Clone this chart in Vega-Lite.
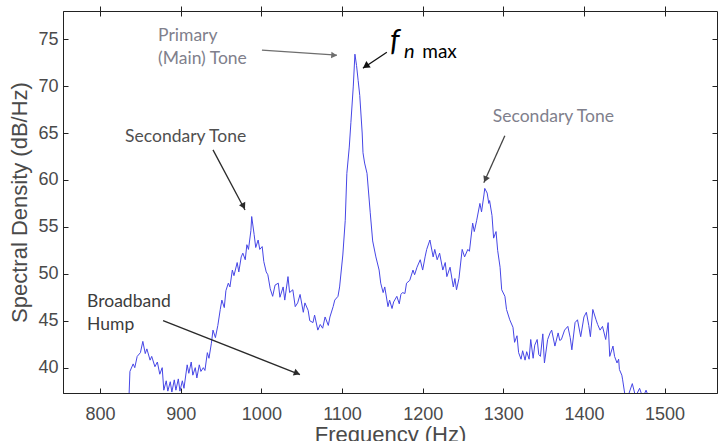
{
  "$schema": "https://vega.github.io/schema/vega-lite/v6.json",
  "width": 654,
  "height": 382,
  "autosize": {"type": "none"},
  "padding": {"left": 63, "top": 11, "right": 1, "bottom": 48},
  "background": "white",
  "config": {
    "view": {"stroke": "#222222", "strokeWidth": 1},
    "axis": {
      "domainColor": "#222222",
      "tickColor": "#222222",
      "tickSize": 5,
      "grid": false,
      "labelFont": "Liberation Sans",
      "labelFontSize": 18,
      "labelColor": "#4a4a4a",
      "titleFont": "Liberation Sans",
      "titleFontSize": 22,
      "titleFontWeight": "normal",
      "titleColor": "#4a4a4a"
    }
  },
  "datasets": {
    "spectrum": [
      {"f": 835, "db": 36.8}, {"f": 836, "db": 37.3}, {"f": 837, "db": 39.6}, {"f": 841, "db": 40.4},
      {"f": 843, "db": 40.0}, {"f": 846, "db": 41.2}, {"f": 850, "db": 41.6}, {"f": 853, "db": 42.8},
      {"f": 856, "db": 41.5}, {"f": 858, "db": 42.0}, {"f": 862, "db": 40.8}, {"f": 864, "db": 41.2},
      {"f": 868, "db": 40.1}, {"f": 871, "db": 40.6}, {"f": 874, "db": 39.3}, {"f": 877, "db": 40.0},
      {"f": 879, "db": 37.6}, {"f": 882, "db": 38.6}, {"f": 884, "db": 37.5}, {"f": 887, "db": 38.5},
      {"f": 889, "db": 37.4}, {"f": 892, "db": 38.7}, {"f": 894, "db": 37.6}, {"f": 897, "db": 38.8},
      {"f": 899, "db": 37.5}, {"f": 902, "db": 38.6}, {"f": 904, "db": 37.8}, {"f": 908, "db": 40.3},
      {"f": 910, "db": 39.4}, {"f": 913, "db": 40.6}, {"f": 915, "db": 39.2}, {"f": 918, "db": 40.0},
      {"f": 920, "db": 38.9}, {"f": 923, "db": 40.3}, {"f": 925, "db": 39.6}, {"f": 928, "db": 40.0},
      {"f": 930, "db": 39.7}, {"f": 933, "db": 41.6}, {"f": 935, "db": 41.0}, {"f": 938, "db": 42.6},
      {"f": 940, "db": 44.0}, {"f": 943, "db": 43.2}, {"f": 946, "db": 44.5}, {"f": 949, "db": 46.2},
      {"f": 951, "db": 47.2}, {"f": 954, "db": 46.4}, {"f": 956, "db": 48.2}, {"f": 959, "db": 49.0},
      {"f": 961, "db": 48.6}, {"f": 964, "db": 50.4}, {"f": 966, "db": 49.8}, {"f": 970, "db": 51.2},
      {"f": 972, "db": 50.2}, {"f": 975, "db": 51.8}, {"f": 977, "db": 52.2}, {"f": 980, "db": 51.5},
      {"f": 982, "db": 53.1}, {"f": 984, "db": 52.6}, {"f": 987, "db": 54.6}, {"f": 988, "db": 56.1},
      {"f": 991, "db": 54.2}, {"f": 993, "db": 52.8}, {"f": 996, "db": 53.6}, {"f": 998, "db": 52.6},
      {"f": 1001, "db": 52.9}, {"f": 1003, "db": 51.3}, {"f": 1006, "db": 50.2}, {"f": 1008, "db": 49.9},
      {"f": 1011, "db": 48.4}, {"f": 1014, "db": 47.6}, {"f": 1017, "db": 48.8}, {"f": 1021, "db": 49.0},
      {"f": 1023, "db": 47.5}, {"f": 1027, "db": 48.6}, {"f": 1029, "db": 47.2}, {"f": 1033, "db": 49.7},
      {"f": 1035, "db": 48.0}, {"f": 1039, "db": 48.3}, {"f": 1042, "db": 46.5}, {"f": 1045, "db": 46.9},
      {"f": 1048, "db": 47.8}, {"f": 1052, "db": 45.9}, {"f": 1054, "db": 46.9}, {"f": 1058, "db": 46.1},
      {"f": 1060, "db": 45.0}, {"f": 1064, "db": 44.8}, {"f": 1066, "db": 45.6}, {"f": 1070, "db": 44.0},
      {"f": 1073, "db": 44.6}, {"f": 1076, "db": 44.2}, {"f": 1079, "db": 45.4}, {"f": 1083, "db": 44.5},
      {"f": 1085, "db": 45.4}, {"f": 1089, "db": 46.5}, {"f": 1091, "db": 47.2}, {"f": 1095, "db": 47.6},
      {"f": 1097, "db": 48.6}, {"f": 1101, "db": 52.0}, {"f": 1104, "db": 55.7}, {"f": 1106, "db": 60.7},
      {"f": 1109, "db": 63.5}, {"f": 1111, "db": 66.1}, {"f": 1114, "db": 70.0}, {"f": 1116, "db": 73.4},
      {"f": 1118, "db": 72.2}, {"f": 1120, "db": 70.6}, {"f": 1122, "db": 69.0}, {"f": 1125, "db": 65.0},
      {"f": 1126, "db": 62.9}, {"f": 1128, "db": 61.8}, {"f": 1131, "db": 60.7}, {"f": 1135, "db": 56.5},
      {"f": 1138, "db": 53.5}, {"f": 1142, "db": 51.8}, {"f": 1146, "db": 50.4}, {"f": 1148, "db": 49.0},
      {"f": 1151, "db": 48.0}, {"f": 1153, "db": 48.6}, {"f": 1157, "db": 46.5}, {"f": 1159, "db": 47.2},
      {"f": 1162, "db": 46.3}, {"f": 1164, "db": 47.0}, {"f": 1168, "db": 47.6}, {"f": 1171, "db": 46.8},
      {"f": 1173, "db": 47.8}, {"f": 1175, "db": 48.0}, {"f": 1178, "db": 47.9}, {"f": 1180, "db": 49.0},
      {"f": 1184, "db": 49.3}, {"f": 1188, "db": 50.4}, {"f": 1190, "db": 49.9}, {"f": 1193, "db": 50.7},
      {"f": 1197, "db": 51.5}, {"f": 1200, "db": 50.4}, {"f": 1203, "db": 51.8}, {"f": 1205, "db": 52.6},
      {"f": 1209, "db": 53.6}, {"f": 1213, "db": 51.8}, {"f": 1215, "db": 52.6}, {"f": 1218, "db": 51.5},
      {"f": 1221, "db": 52.2}, {"f": 1225, "db": 50.4}, {"f": 1228, "db": 51.2}, {"f": 1230, "db": 49.7},
      {"f": 1234, "db": 50.7}, {"f": 1238, "db": 48.6}, {"f": 1240, "db": 49.5}, {"f": 1242, "db": 48.3},
      {"f": 1245, "db": 49.5}, {"f": 1249, "db": 52.6}, {"f": 1252, "db": 51.8}, {"f": 1256, "db": 52.6},
      {"f": 1258, "db": 52.4}, {"f": 1262, "db": 55.4}, {"f": 1264, "db": 54.5}, {"f": 1267, "db": 55.7},
      {"f": 1271, "db": 57.5}, {"f": 1273, "db": 56.6}, {"f": 1276, "db": 58.4}, {"f": 1277, "db": 59.1},
      {"f": 1280, "db": 58.6}, {"f": 1282, "db": 57.5}, {"f": 1283, "db": 57.8}, {"f": 1286, "db": 56.2},
      {"f": 1288, "db": 53.8}, {"f": 1291, "db": 54.5}, {"f": 1293, "db": 52.5}, {"f": 1296, "db": 50.7},
      {"f": 1298, "db": 48.3}, {"f": 1302, "db": 47.6}, {"f": 1304, "db": 46.2}, {"f": 1308, "db": 45.1},
      {"f": 1312, "db": 44.3}, {"f": 1314, "db": 42.7}, {"f": 1317, "db": 43.4}, {"f": 1319, "db": 41.6},
      {"f": 1322, "db": 40.9}, {"f": 1324, "db": 41.8}, {"f": 1327, "db": 40.8}, {"f": 1329, "db": 41.7},
      {"f": 1332, "db": 40.9}, {"f": 1334, "db": 43.0}, {"f": 1337, "db": 41.0}, {"f": 1339, "db": 42.4},
      {"f": 1342, "db": 43.0}, {"f": 1344, "db": 41.4}, {"f": 1346, "db": 41.2}, {"f": 1349, "db": 43.6},
      {"f": 1351, "db": 40.5}, {"f": 1355, "db": 43.0}, {"f": 1358, "db": 43.7}, {"f": 1360, "db": 44.0},
      {"f": 1364, "db": 42.3}, {"f": 1368, "db": 43.7}, {"f": 1370, "db": 42.9}, {"f": 1372, "db": 43.0},
      {"f": 1376, "db": 44.0}, {"f": 1380, "db": 44.4}, {"f": 1383, "db": 43.2}, {"f": 1385, "db": 41.9},
      {"f": 1389, "db": 44.8}, {"f": 1392, "db": 45.1}, {"f": 1396, "db": 43.3}, {"f": 1400, "db": 45.4},
      {"f": 1403, "db": 45.9}, {"f": 1406, "db": 44.5}, {"f": 1408, "db": 43.3}, {"f": 1411, "db": 46.2},
      {"f": 1415, "db": 45.1}, {"f": 1417, "db": 44.6}, {"f": 1420, "db": 44.0}, {"f": 1423, "db": 44.4},
      {"f": 1427, "db": 43.0}, {"f": 1430, "db": 44.8}, {"f": 1432, "db": 41.2}, {"f": 1436, "db": 42.3},
      {"f": 1438, "db": 41.2}, {"f": 1441, "db": 40.5}, {"f": 1443, "db": 40.9}, {"f": 1444, "db": 39.8},
      {"f": 1447, "db": 39.2}, {"f": 1448, "db": 38.7}, {"f": 1451, "db": 37.0}, {"f": 1454, "db": 36.8},
      {"f": 1460, "db": 38.3}, {"f": 1464, "db": 36.9}, {"f": 1469, "db": 37.8}, {"f": 1473, "db": 36.8},
      {"f": 1477, "db": 37.6}, {"f": 1482, "db": 36.5}
    ],
    "arrows": [
      {"name": "primary", "f": 1000.7, "db": 73.83, "f2": 1093.7, "db2": 73.3},
      {"name": "fnmax", "f": 1155.6, "db": 73.6, "f2": 1125.9, "db2": 71.9},
      {"name": "secondary_low", "f": 940.0, "db": 63.2, "f2": 979.7, "db2": 56.8},
      {"name": "secondary_high", "f": 1301.9, "db": 64.7, "f2": 1275.8, "db2": 59.7},
      {"name": "broadband", "f": 878.1, "db": 45.0, "f2": 1047.8, "db2": 39.26}
    ]
  },
  "layer": [
    {
      "data": {"name": "spectrum"},
      "mark": {"type": "line", "color": "#4646e6", "strokeWidth": 1, "clip": true, "interpolate": "linear"},
      "encoding": {
        "x": {
          "field": "f", "type": "quantitative",
          "scale": {"domain": [754, 1565], "nice": false, "zero": false},
          "axis": {"orient": "bottom", "title": "Frequency (Hz)", "format": "d", "ticks": false, "values": [800, 900, 1000, 1100, 1200, 1300, 1400, 1500], "labelPadding": 12, "titlePadding": 1}
        },
        "y": {
          "field": "db", "type": "quantitative",
          "scale": {"domain": [37.3, 78], "nice": false, "zero": false},
          "axis": {"orient": "left", "title": "Spectral Density (dB/Hz)", "ticks": false, "values": [40, 45, 50, 55, 60, 65, 70, 75], "labelPadding": 5, "titlePadding": 6}
        }
      }
    },
    {
      "data": {"name": "arrows"},
      "mark": {"type": "rule", "color": "#2a2a2a", "strokeWidth": 1.3},
      "encoding": {
        "x": {"field": "f", "type": "quantitative", "axis": {"orient": "top", "offset": -382, "labels": false, "title": null, "domain": false, "values": [800, 900, 1000, 1100, 1200, 1300, 1400, 1500]}},
        "y": {"field": "db", "type": "quantitative", "axis": {"orient": "right", "offset": -654, "labels": false, "title": null, "domain": false, "values": [40, 45, 50, 55, 60, 65, 70, 75]}},
        "x2": {"field": "f2"},
        "y2": {"field": "db2"},
        "color": {"field": "name", "type": "nominal", "legend": null,
          "scale": {"domain": ["primary", "fnmax", "secondary_low", "secondary_high", "broadband"], "range": ["#6e6e6e", "#111111", "#2a2a2a", "#444444", "#2a2a2a"]}}
      }
    },
    {
      "data": {"values": [{"f": 1089.0, "db": 73.3}]},
      "mark": {"type": "point", "shape": "triangle", "filled": true, "size": 45, "angle": 94, "color": "#6e6e6e", "opacity": 1},
      "encoding": {
        "x": {"field": "f", "type": "quantitative", "axis": {"orient": "bottom", "offset": -382, "labels": false, "title": null, "domain": false, "values": [800, 900, 1000, 1100, 1200, 1300, 1400, 1500]}},
        "y": {"field": "db", "type": "quantitative", "axis": {"orient": "left", "offset": -654, "labels": false, "title": null, "domain": false, "values": [40, 45, 50, 55, 60, 65, 70, 75]}}
      }
    },
    {
      "data": {"values": [{"f": 1130.6, "db": 72.2}]},
      "mark": {"type": "point", "shape": "triangle", "filled": true, "size": 60, "angle": 236, "color": "#111111", "opacity": 1},
      "encoding": {
        "x": {"field": "f", "type": "quantitative", "axis": {"orient": "top", "labels": false, "title": null, "domain": false, "values": [800, 900, 1000, 1100, 1200, 1300, 1400, 1500]}},
        "y": {"field": "db", "type": "quantitative", "axis": {"orient": "right", "labels": false, "title": null, "domain": false, "values": [40, 45, 50, 55, 60, 65, 70, 75]}}
      }
    },
    {
      "data": {"values": [{"f": 977.3, "db": 57.3}]},
      "mark": {"type": "point", "shape": "triangle", "filled": true, "size": 50, "angle": 152, "color": "#2a2a2a", "opacity": 1},
      "encoding": {"x": {"field": "f", "type": "quantitative", "axis": null}, "y": {"field": "db", "type": "quantitative", "axis": null}}
    },
    {
      "data": {"values": [{"f": 1278.3, "db": 60.15}]},
      "mark": {"type": "point", "shape": "triangle", "filled": true, "size": 50, "angle": 204, "color": "#444444", "opacity": 1},
      "encoding": {"x": {"field": "f", "type": "quantitative", "axis": null}, "y": {"field": "db", "type": "quantitative", "axis": null}}
    },
    {
      "data": {"values": [{"f": 1043.0, "db": 39.45}]},
      "mark": {"type": "point", "shape": "triangle", "filled": true, "size": 50, "angle": 111, "color": "#2a2a2a", "opacity": 1},
      "encoding": {"x": {"field": "f", "type": "quantitative", "axis": null}, "y": {"field": "db", "type": "quantitative", "axis": null}}
    },
    {
      "data": {"values": [
        {"label": "Primary", "f": 871.9, "db": 75.3},
        {"label": "(Main) Tone", "f": 871.9, "db": 72.9},
        {"label": "Secondary Tone", "f": 1287.0, "db": 66.7}
      ]},
      "mark": {"type": "text", "align": "left", "baseline": "middle", "font": "Lato", "fontSize": 17.5, "color": "#80808c"},
      "encoding": {"x": {"field": "f", "type": "quantitative", "axis": null}, "y": {"field": "db", "type": "quantitative", "axis": null}, "text": {"field": "label"}}
    },
    {
      "data": {"values": [{"label": "Secondary Tone", "f": 831.0, "db": 64.57}]},
      "mark": {"type": "text", "align": "left", "baseline": "middle", "font": "Lato", "fontSize": 17.5, "color": "#505050"},
      "encoding": {"x": {"field": "f", "type": "quantitative", "axis": null}, "y": {"field": "db", "type": "quantitative", "axis": null}, "text": {"field": "label"}}
    },
    {
      "data": {"values": [
        {"label": "Broadband", "f": 783.9, "db": 47.0},
        {"label": "Hump", "f": 783.9, "db": 44.57}
      ]},
      "mark": {"type": "text", "align": "left", "baseline": "middle", "font": "Lato", "fontSize": 17.5, "color": "#3c3c3c"},
      "encoding": {"x": {"field": "f", "type": "quantitative", "axis": null}, "y": {"field": "db", "type": "quantitative", "axis": null}, "text": {"field": "label"}}
    },
    {
      "data": {"values": [{"label": "f", "f": 1159.5, "db": 73.75}]},
      "mark": {"type": "text", "align": "left", "baseline": "alphabetic", "font": "Lato", "fontSize": 30, "fontStyle": "italic", "color": "#000000"},
      "encoding": {"x": {"field": "f", "type": "quantitative", "axis": null}, "y": {"field": "db", "type": "quantitative", "axis": null}, "text": {"field": "label"}}
    },
    {
      "data": {"values": [{"label": "n", "f": 1177.0, "db": 72.95}]},
      "mark": {"type": "text", "align": "left", "baseline": "alphabetic", "font": "Lato", "fontSize": 20, "fontStyle": "italic", "color": "#000000"},
      "encoding": {"x": {"field": "f", "type": "quantitative", "axis": null}, "y": {"field": "db", "type": "quantitative", "axis": null}, "text": {"field": "label"}}
    },
    {
      "data": {"values": [{"label": "max", "f": 1199.5, "db": 72.95}]},
      "mark": {"type": "text", "align": "left", "baseline": "alphabetic", "font": "Lato", "fontSize": 19, "color": "#000000"},
      "encoding": {"x": {"field": "f", "type": "quantitative", "axis": null}, "y": {"field": "db", "type": "quantitative", "axis": null}, "text": {"field": "label"}}
    }
  ],
  "resolve": {"axis": {"x": "independent", "y": "independent"}}
}
